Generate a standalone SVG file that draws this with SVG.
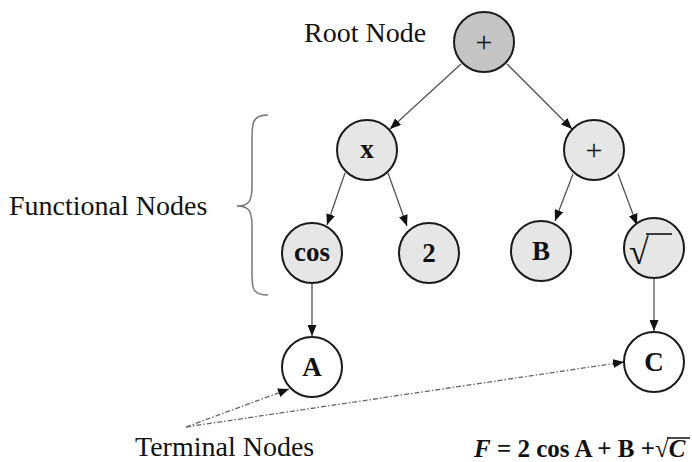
<svg xmlns="http://www.w3.org/2000/svg" width="692" height="462" viewBox="0 0 692 462">
<style>
.n{stroke:#1a1a1a;stroke-width:2;fill:#e6e6e6}
.root{fill:#c4c4c4}
.t{fill:#fff}
.lb{font-family:"Liberation Serif",serif;font-size:27px;font-weight:bold;text-anchor:middle;fill:#111}
.lr{font-family:"Liberation Serif",serif;font-size:30px;text-anchor:middle;fill:#111}
.cap{font-family:"Liberation Serif",serif;font-size:28px;fill:#111}
.e{stroke:#555;stroke-width:1.3;fill:none;marker-end:url(#ah)}
.d{stroke:#666;stroke-width:1.3;fill:none;stroke-dasharray:5 2 1.5 2;marker-end:url(#ah)}
</style>
<defs>
<marker id="ah" markerUnits="userSpaceOnUse" markerWidth="11" markerHeight="9" refX="11" refY="4.5" orient="auto">
<path d="M0,0 L11,4.5 L0,9 z" fill="#111"/>
</marker>
</defs>
<text class="cap" x="304" y="42">Root Node</text>
<text class="cap" x="9" y="215">Functional Nodes</text>
<text class="cap" x="135" y="456">Terminal Nodes</text>
<path d="M268,115 C250,115 252,125 252,150 L252,185 C252,200 250,206 237,206 C250,206 252,212 252,227 L252,262 C252,287 250,295 268,295" stroke="#777" stroke-width="1.5" fill="none"/>
<text x="474" y="457" style="font-family:'Liberation Serif',serif;font-size:25px;font-weight:bold;fill:#111"><tspan font-style="italic">F</tspan> = 2 cos A + B +√<tspan font-style="italic">C</tspan></text>
<line x1="667" y1="438" x2="690" y2="438" stroke="#111" stroke-width="1.5"/>
<g id="edges">
<line class="e" x1="461" y1="64" x2="390" y2="129"/>
<line class="e" x1="507" y1="64" x2="572" y2="129"/>
<line class="e" x1="345" y1="173" x2="327" y2="225"/>
<line class="e" x1="388" y1="173" x2="407" y2="226"/>
<line class="e" x1="573" y1="174" x2="555" y2="221"/>
<line class="e" x1="618" y1="174" x2="637" y2="225"/>
<line class="e" x1="312" y1="283" x2="312" y2="336"/>
<line class="e" x1="654" y1="278" x2="654" y2="331"/>
<line class="d" x1="186" y1="427" x2="289" y2="389"/>
<line class="d" x1="186" y1="427" x2="624" y2="362"/>
</g>
<g id="root"><circle class="n root" cx="484" cy="42" r="30"/><text class="lr" x="484" y="52">+</text></g>
<g id="mul"><circle class="n" cx="367" cy="150" r="30"/><text class="lb" x="367" y="158">x</text></g>
<g id="plus"><circle class="n" cx="594" cy="150" r="30"/><text class="lr" x="594" y="160">+</text></g>
<g id="cos"><circle class="n" cx="312" cy="253" r="30"/><text class="lb" x="312" y="261">cos</text></g>
<g id="two"><circle class="n" cx="429" cy="253" r="30"/><text class="lb" x="429" y="262">2</text></g>
<g id="b"><circle class="n" cx="541" cy="251" r="30"/><text class="lb" x="541" y="260">B</text></g>
<g id="sqrt"><circle class="n" cx="654" cy="248" r="30"/><text class="lr" x="639" y="264" style="font-size:36px">√</text><line x1="646" y1="234" x2="672" y2="234" stroke="#111" stroke-width="1.6"/></g>
<g id="a"><circle class="n t" cx="312" cy="367" r="30"/><text class="lb" x="312" y="376">A</text></g>
<g id="c"><circle class="n t" cx="654" cy="362" r="30"/><text class="lb" x="654" y="371">C</text></g>
</svg>
